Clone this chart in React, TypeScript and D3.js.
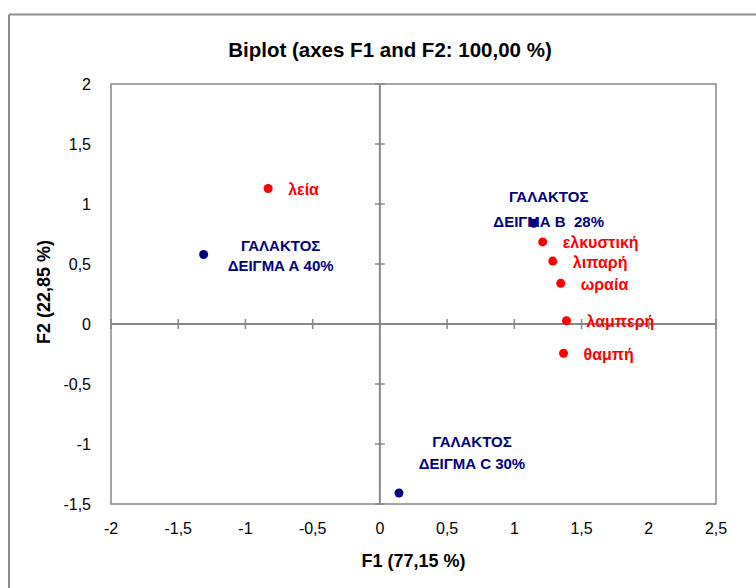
import React from "react";
import * as d3 from "d3";

// ---- data ----
const sampleNames = ["ΓΑΛΑΚΤΟΣ|ΔΕΙΓΜΑ Α 40%", "ΓΑΛΑΚΤΟΣ|ΔΕΙΓΜΑ Β  28%", "ΓΑΛΑΚΤΟΣ|ΔΕΙΓΜΑ C 30%"];
const sampleF1 = [-1.311, 1.144, 0.142];
const sampleF2 = [0.579, 0.84, -1.408];

const attrNames = ["λεία", "ελκυστική", "λιπαρή", "ωραία", "λαμπερή", "θαμπή"];
const attrF1 = [-0.831, 1.211, 1.286, 1.345, 1.388, 1.366];
const attrF2 = [1.129, 0.684, 0.524, 0.339, 0.027, -0.244];

const xTicks = [-2, -1.5, -1, -0.5, 0, 0.5, 1, 1.5, 2, 2.5];
const yTicks = [-1.5, -1, -0.5, 0, 0.5, 1, 1.5, 2];

// ---- layout (label offsets in px, relative to the point) ----
const sampleLabelOffset = [
  { dx: 77, dy1: -9, dy2: 11 },
  { dx: 15, dy1: -27, dy2: -2 },
  { dx: 73, dy1: -51, dy2: -29 },
];

const W = 756;
const H = 588;
const plot = { left: 111, right: 716, top: 84, bottom: 504 };
const FONT = "'Liberation Sans Narrow', 'Liberation Sans', Arial, sans-serif";
const AXIS = "#888888";
const RED = "#FF0000";
const NAVY = "#00007F";

const fmt = (v: number) => String(v).replace(".", ",");

export default function App() {
  const x = d3.scaleLinear().domain([-2, 2.5]).range([plot.left, plot.right]);
  const y = d3.scaleLinear().domain([-1.5, 2]).range([plot.bottom, plot.top]);
  const x0 = x(0);
  const y0 = y(0);

  return (
    <svg
      width={W}
      height={H}
      style={{ position: "absolute", left: 0, top: 0, background: "#fff" }}
      fontFamily={FONT}
    >
      {/* chart frame */}
      <line x1={9} x2={W} y1={14.5} y2={14.5} stroke="#8c8c8c" strokeWidth={2} />
      <line x1={9} x2={9} y1={14.5} y2={H} stroke="#8c8c8c" strokeWidth={2} />

      {/* title */}
      <text x={390} y={57} textAnchor="middle" fontSize={20.5} fontWeight="bold" fill="#000">
        Biplot (axes F1 and F2: 100,00 %)
      </text>

      {/* plot area border */}
      <rect
        x={plot.left}
        y={plot.top}
        width={plot.right - plot.left}
        height={plot.bottom - plot.top}
        fill="none"
        stroke={AXIS}
        strokeWidth={1.5}
      />

      {/* zero axes */}
      <line x1={plot.left} x2={plot.right} y1={y0} y2={y0} stroke={AXIS} strokeWidth={2} />
      <line x1={x0} x2={x0} y1={plot.top} y2={plot.bottom} stroke={AXIS} strokeWidth={2} />
      {xTicks.map((t) => (
        <line key={"xt" + t} x1={x(t)} x2={x(t)} y1={y0 - 5} y2={y0 + 5} stroke={AXIS} strokeWidth={1.5} />
      ))}
      {yTicks.map((t) => (
        <line key={"yt" + t} x1={x0 - 5} x2={x0 + 5} y1={y(t)} y2={y(t)} stroke={AXIS} strokeWidth={1.5} />
      ))}

      {/* tick labels */}
      {xTicks.map((t) => (
        <text key={"xl" + t} x={x(t)} y={533.5} textAnchor="middle" fontSize={16} fill="#000">
          {fmt(t)}
        </text>
      ))}
      {yTicks.map((t) => (
        <text key={"yl" + t} x={91} y={y(t) + 5.5} textAnchor="end" fontSize={16} fill="#000">
          {fmt(t)}
        </text>
      ))}

      {/* axis titles */}
      <text x={(plot.left + plot.right) / 2} y={567} textAnchor="middle" fontSize={18} fontWeight="bold" fill="#000">
        F1 (77,15 %)
      </text>
      <text
        transform={`translate(50,${(plot.top + plot.bottom) / 2 - 2}) rotate(-90)`}
        textAnchor="middle"
        fontSize={18}
        fontWeight="bold"
        fill="#000"
      >
        F2 (22,85 %)
      </text>

      {/* attribute points */}
      {attrNames.map((n, i) => (
        <g key={"a" + i}>
          <circle cx={x(attrF1[i])} cy={y(attrF2[i])} r={4.5} fill={RED} />
          <text x={x(attrF1[i]) + 20} y={y(attrF2[i]) + 6.5} fontSize={16} fontWeight="bold" fill={RED}>
            {n}
          </text>
        </g>
      ))}

      {/* sample points */}
      {sampleNames.map((n, i) => {
        const [l1, l2] = n.split("|");
        const o = sampleLabelOffset[i];
        const cx = x(sampleF1[i]);
        const cy = y(sampleF2[i]);
        return (
          <g key={"s" + i}>
            <text x={cx + o.dx} y={cy + o.dy1 + 5.5} textAnchor="middle" fontSize={15} fontWeight="bold" fill={NAVY} style={{ whiteSpace: "pre" }}>
              {l1}
            </text>
            <text x={cx + o.dx} y={cy + o.dy2 + 5.5} textAnchor="middle" fontSize={15} fontWeight="bold" fill={NAVY} style={{ whiteSpace: "pre" }}>
              {l2}
            </text>
            <circle cx={cx} cy={cy} r={4.5} fill={NAVY} />
          </g>
        );
      })}
    </svg>
  );
}
